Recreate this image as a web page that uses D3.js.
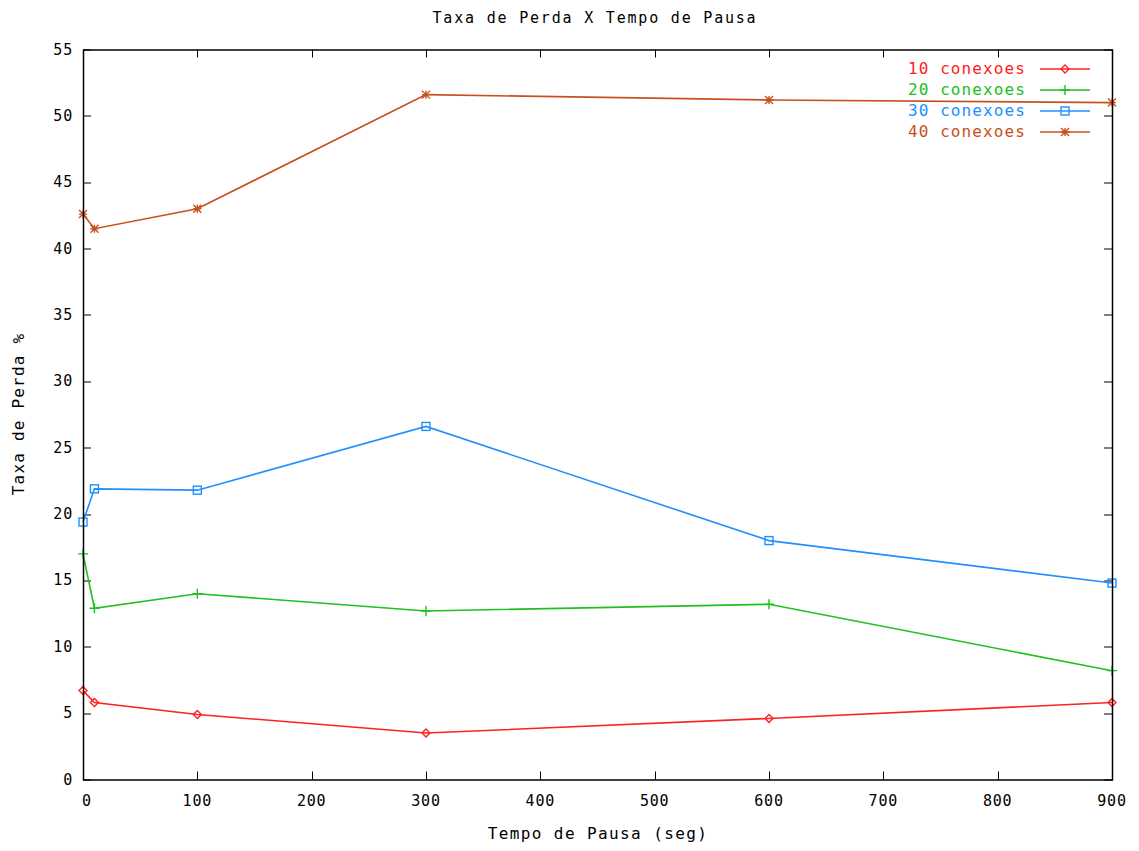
<!DOCTYPE html>
<html>
<head>
<meta charset="utf-8">
<script src="https://cdnjs.cloudflare.com/ajax/libs/d3/7.8.5/d3.min.js"></script>
<style>
  body { margin: 0; background: #fff; }
  text { font-family: "DejaVu Sans Mono", monospace; }
</style>
</head>
<body>
<div id="chart"></div>
<script>
// dados
const pausas = [0, 10, 100, 300, 600, 900];
const perda10 = [6.7, 5.8, 4.9, 3.5, 4.6, 5.8];
const perda20 = [17.0, 12.9, 14.0, 12.7, 13.2, 8.2];
const perda30 = [19.4, 21.9, 21.8, 26.6, 18.0, 14.8];
const perda40 = [42.6, 41.5, 43.0, 51.6, 51.2, 51.0];
const nomes = ['10 conexoes', '20 conexoes', '30 conexoes', '40 conexoes'];
const xTicks = [0, 100, 200, 300, 400, 500, 600, 700, 800, 900];
const yTicks = [0, 5, 10, 15, 20, 25, 30, 35, 40, 45, 50, 55];

const W = 1139, H = 851;
const margin = { left: 83, right: 27, top: 49.5, bottom: 71.5 };
const iw = W - margin.left - margin.right,
    ih = H - margin.top - margin.bottom;

const series = [
    { name: nomes[0], values: perda10, color: '#ff2020', marker: 'diamond' },
    { name: nomes[1], values: perda20, color: '#20c020', marker: 'plus' },
    { name: nomes[2], values: perda30, color: '#2090ff', marker: 'square' },
    { name: nomes[3], values: perda40, color: '#c8501e', marker: 'star' }
];

const svg = d3.select('#chart').append('svg')
    .attr('width', W)
    .attr('height', H);

const g = svg.append('g')
    .attr('transform', `translate(${margin.left},${margin.top})`);

const x = d3.scaleLinear().domain([0, 900]).range([0, iw]);
const y = d3.scaleLinear().domain([0, 55]).range([ih, 0]);

// eixos (ticks para dentro, espelhados)
const tick = 8;
const axisG = g.append('g').attr('stroke', '#000').attr('stroke-width', 1);
xTicks.forEach(v => {
    const px = Math.round(x(v)) + 0.5;
    axisG.append('line').attr('x1', px).attr('x2', px).attr('y1', ih).attr('y2', ih - tick);
    axisG.append('line').attr('x1', px).attr('x2', px).attr('y1', 0).attr('y2', tick);
});
yTicks.forEach(v => {
    const py = Math.round(y(v)) + 0.5;
    axisG.append('line').attr('x1', 0).attr('x2', tick).attr('y1', py).attr('y2', py);
    axisG.append('line').attr('x1', iw).attr('x2', iw - tick).attr('y1', py).attr('y2', py);
});

g.selectAll('.xlab')
    .data(xTicks)
    .join('text')
    .attr('class', 'xlab')
    .attr('x', d => x(d) + (d === 0 ? 4 : 0))
    .attr('y', ih + 26)
    .attr('text-anchor', 'middle')
    .attr('font-size', 15)
    .attr('letter-spacing', 0.8)
    .text(d => d);

g.selectAll('.ylab')
    .data(yTicks)
    .join('text')
    .attr('class', 'ylab')
    .attr('x', -10)
    .attr('y', d => y(d) + 5)
    .attr('text-anchor', 'end')
    .attr('font-size', 15)
    .attr('letter-spacing', 0.8)
    .text(d => d);

// linhas
const line = d3.line()
    .x((d, i) => x(pausas[i]))
    .y(d => y(d));

series.forEach(s => {
    g.append('path')
        .datum(s.values)
        .attr('fill', 'none')
        .attr('stroke', s.color)
        .attr('stroke-width', 1.6)
        .attr('d', line);
});

function drawMarker(sel, type, color, cx, cy) {
    const r = 4;
    const m = sel.append('g')
        .attr('transform', `translate(${cx},${cy})`)
        .attr('stroke', color)
        .attr('stroke-width', 1.4)
        .attr('fill', 'none');
    if (type === 'diamond') {
        m.append('path').attr('d', `M0,${-r}L${r},0L0,${r}L${-r},0Z`);
    } else if (type === 'plus') {
        m.append('path').attr('d', `M${-r - 1},0H${r + 1}M0,${-r - 1}V${r + 1}`);
    } else if (type === 'square') {
        m.append('rect').attr('x', -r).attr('y', -r).attr('width', 2 * r).attr('height', 2 * r);
    } else if (type === 'star') {
        m.append('path').attr('d', `M${-r},0H${r}M0,${-r}V${r}M${-r},${-r}L${r},${r}M${-r},${r}L${r},${-r}`);
    }
}

series.forEach(s => {
    s.values.forEach((v, i) => drawMarker(g, s.marker, s.color, x(pausas[i]), y(v)));
});

// borda
g.append('rect')
    .attr('x', 0.5).attr('y', 0.5)
    .attr('width', iw).attr('height', ih)
    .attr('fill', 'none')
    .attr('stroke', '#000')
    .attr('stroke-width', 1.5);

// legenda
const leg = g.append('g')
    .attr('transform', `translate(${1026 - margin.left},${69 - margin.top})`);
series.forEach((s, i) => {
    const row = leg.append('g').attr('transform', `translate(0,${i * 21})`);
    row.append('text')
        .attr('x', 0)
        .attr('y', 5)
        .attr('text-anchor', 'end')
        .attr('font-size', 16)
        .attr('letter-spacing', 1.1)
        .attr('fill', s.color)
        .text(s.name);
    row.append('line')
        .attr('x1', 14).attr('x2', 64)
        .attr('y1', 0).attr('y2', 0)
        .attr('stroke', s.color)
        .attr('stroke-width', 1.6);
    drawMarker(row, s.marker, s.color, 39, 0);
});

// títulos
svg.append('text')
    .attr('x', 595)
    .attr('y', 23)
    .attr('text-anchor', 'middle')
    .attr('font-size', 15)
    .attr('letter-spacing', 1.8)
    .text('Taxa de Perda X Tempo de Pausa');

svg.append('text')
    .attr('x', 598)
    .attr('y', 839)
    .attr('text-anchor', 'middle')
    .attr('font-size', 16)
    .attr('letter-spacing', 1.4)
    .text('Tempo de Pausa (seg)');

svg.append('text')
    .attr('transform', `translate(24,${414}) rotate(-90)`)
    .attr('text-anchor', 'middle')
    .attr('font-size', 16)
    .attr('letter-spacing', 1.2)
    .text('Taxa de Perda %');
</script>
</body>
</html>
